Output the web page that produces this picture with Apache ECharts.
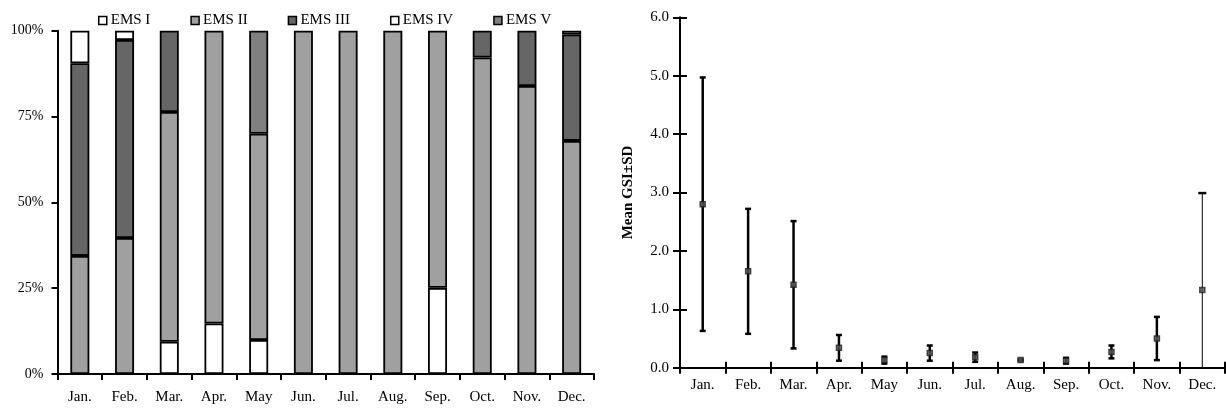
<!DOCTYPE html>
<html>
<head>
<meta charset="utf-8">
<script src="https://cdn.jsdelivr.net/npm/echarts@6/dist/echarts.min.js"></script>
<style>
html,body{margin:0;padding:0;background:#fff;}
#c{width:1226px;height:410px;}
</style>
</head>
<body>
<div id="c"></div>
<script>
// ---- data ----
const months = ['Jan.','Feb.','Mar.','Apr.','May','Jun.','Jul.','Aug.','Sep.','Oct.','Nov.','Dec.'];
const emsNames = ['EMS I','EMS II','EMS III','EMS IV','EMS V'];
const emsI   = [0, 0, 9.4, 14.7, 9.9, 0, 0, 0, 25.1, 0, 0, 0];
const emsII  = [34.4, 39.6, 66.9, 85.3, 60.1, 100, 100, 100, 74.9, 92.2, 83.9, 67.9];
const emsIII = [56.1, 57.7, 23.7, 0, 0, 0, 0, 0, 0, 7.8, 16.1, 31.0];
const emsIV  = [9.5, 2.7, 0, 0, 0, 0, 0, 0, 0, 0, 0, 1.1];
const emsV   = [0, 0, 0, 0, 30, 0, 0, 0, 0, 0, 0, 0];
const pctTicks = [0, 25, 50, 75, 100];
const gsiMean = [2.80, 1.65, 1.42, 0.34, 0.13, 0.25, 0.18, 0.13, 0.12, 0.27, 0.50, 1.33];
const gsiSD   = [2.17, 1.07, 1.09, 0.22, 0.06, 0.13, 0.08, 0.01, 0.05, 0.11, 0.37, 1.66];

// ---- styles ----
const FONT = '"Liberation Serif", "Times New Roman", serif';
const emsColors = ['#ffffff', '#a0a0a0', '#666666', '#ffffff', '#808080'];
const emsData = [emsI, emsII, emsIII, emsIV, emsV];

const chart = echarts.init(document.getElementById('c'), null, {renderer: 'canvas'});

const barSeries = emsNames.map((name, k) => ({
  name: name,
  type: 'bar',
  stack: 'ems',
  xAxisIndex: 0,
  yAxisIndex: 0,
  barWidth: 19,
  data: emsData[k].map(v => v > 0 ? v : null),
  itemStyle: {color: emsColors[k], borderColor: '#000', borderWidth: 1.8},
  emphasis: {disabled: true},
  animation: false
}));

const errData = gsiMean.map((m, i) => [i, m - gsiSD[i], m + gsiSD[i]]);

const errSeries = {
  type: 'custom',
  xAxisIndex: 1,
  yAxisIndex: 1,
  data: errData,
  animation: false,
  silent: true,
  renderItem: function (params, api) {
    const i = api.value(0);
    let lo = api.value(1);
    const hi = api.value(2);
    const clipped = lo < 0;
    if (clipped) lo = 0;
    const pLo = api.coord([i, lo]);
    const pHi = api.coord([i, hi]);
    const lw = clipped ? 1 : 2.5;
    const cw = clipped ? 4 : 3;
    const children = [{
      type: 'line',
      shape: {x1: pLo[0], y1: pLo[1], x2: pHi[0], y2: pHi[1]},
      style: {stroke: '#000', lineWidth: lw}
    }, {
      type: 'line',
      shape: {x1: pHi[0] - cw, y1: pHi[1], x2: pHi[0] + cw, y2: pHi[1]},
      style: {stroke: '#000', lineWidth: 2.5}
    }];
    if (!clipped) {
      children.push({
        type: 'line',
        shape: {x1: pLo[0] - cw, y1: pLo[1], x2: pLo[0] + cw, y2: pLo[1]},
        style: {stroke: '#000', lineWidth: 2.5}
      });
    }
    return {type: 'group', children: children};
  }
};

const meanSeries = {
  type: 'scatter',
  xAxisIndex: 1,
  yAxisIndex: 1,
  data: gsiMean.map((m, i) => [i, m]),
  symbol: 'rect',
  symbolSize: 5,
  itemStyle: {color: '#5a5a5a', borderColor: '#222', borderWidth: 1.5},
  z: 5,
  animation: false,
  silent: true
};

const axisLineStyle = {show: true, lineStyle: {color: '#000', width: 2}};

const option = {
  backgroundColor: '#fff',
  animation: false,
  legend: {
    data: emsNames,
    left: 93,
    top: 8,
    itemWidth: 8,
    itemHeight: 8,
    itemGap: 40,
    icon: 'rect',
    selectedMode: false,
    textStyle: {fontFamily: FONT, fontSize: 15, color: '#000', padding: [0, 0, 0, -1]},
    itemStyle: {borderColor: '#000', borderWidth: 1.5}
  },
  grid: [
    {left: 57.5, right: 632, top: 30.7, bottom: 36},
    {left: 680, right: 1, top: 17.3, bottom: 42.3}
  ],
  xAxis: [
    {
      type: 'category', gridIndex: 0, data: months,
      axisLine: axisLineStyle,
      axisTick: {show: true, length: 6, inside: false, lineStyle: {color: '#000', width: 2}},
      axisLabel: {fontFamily: FONT, fontSize: 15, color: '#000', margin: 16, interval: 0}
    },
    {
      type: 'category', gridIndex: 1, data: months, position: 'bottom',
      axisLine: axisLineStyle,
      axisTick: {show: true, length: 6, inside: false, lineStyle: {color: '#000', width: 2}},
      axisLabel: {fontFamily: FONT, fontSize: 15, color: '#000', margin: 10, interval: 0}
    },
    {
      type: 'category', gridIndex: 1, data: months, position: 'bottom',
      axisLine: {show: false},
      axisTick: {show: true, length: 6, inside: true, lineStyle: {color: '#000', width: 2}},
      axisLabel: {show: false}
    }
  ],
  yAxis: [
    {
      type: 'value', gridIndex: 0, min: 0, max: 100, interval: 25,
      axisLine: axisLineStyle,
      axisTick: {show: true, length: 6, lineStyle: {color: '#000', width: 2}},
      splitLine: {show: false},
      axisLabel: {fontFamily: FONT, fontSize: 14, color: '#000', margin: 14,
        formatter: v => pctTicks.indexOf(v) >= 0 ? v + '%' : ''}
    },
    {
      type: 'value', gridIndex: 1, min: 0, max: 6, interval: 1, position: 'left',
      name: 'Mean GSI±SD', nameLocation: 'middle', nameGap: 44,
      nameTextStyle: {fontFamily: FONT, fontSize: 15, fontWeight: 'bold', color: '#000'},
      axisLine: axisLineStyle,
      axisTick: {show: true, length: 7, lineStyle: {color: '#000', width: 2}},
      splitLine: {show: false},
      axisLabel: {fontFamily: FONT, fontSize: 15, color: '#000', margin: 11,
        formatter: v => v.toFixed(1)}
    },
    {
      type: 'value', gridIndex: 1, min: 0, max: 6, interval: 1, position: 'left',
      axisLine: {show: false},
      axisTick: {show: true, length: 7, inside: true, lineStyle: {color: '#000', width: 2}},
      splitLine: {show: false},
      axisLabel: {show: false}
    }
  ],
  series: barSeries.concat([errSeries, meanSeries])
};

chart.setOption(option);
</script>
</body>
</html>
